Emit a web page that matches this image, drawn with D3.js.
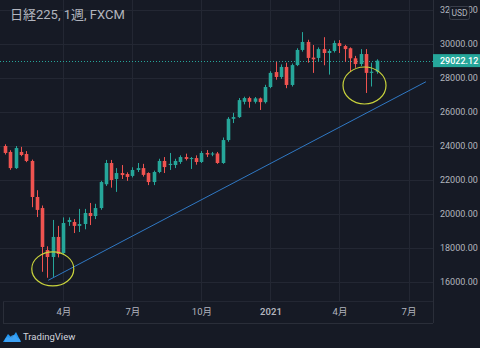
<!DOCTYPE html>
<html>
<head>
<meta charset="utf-8">
<script src="https://cdn.jsdelivr.net/npm/d3@7/dist/d3.min.js"></script>
<style>
  html, body { margin: 0; padding: 0; background: #161a25; }
  svg { display: block; }
  text { font-family: Roboto, "Noto Sans CJK JP", "Noto Sans", sans-serif; }
</style>
</head>
<body>
<svg id="chart" width="480" height="348"></svg>
<script>
// Weekly candles, Nikkei 225 CFD (FXCM), week starting dates
const weeks = [
  "2020-01-20","2020-01-27","2020-02-03","2020-02-10","2020-02-17","2020-02-24",
  "2020-03-02","2020-03-09","2020-03-16","2020-03-23","2020-03-30","2020-04-06",
  "2020-04-13","2020-04-20","2020-04-27","2020-05-04","2020-05-11","2020-05-18",
  "2020-05-25","2020-06-01","2020-06-08","2020-06-15","2020-06-22","2020-06-29",
  "2020-07-06","2020-07-13","2020-07-20","2020-07-27","2020-08-03","2020-08-10",
  "2020-08-17","2020-08-24","2020-08-31","2020-09-07","2020-09-14","2020-09-21",
  "2020-09-28","2020-10-05","2020-10-12","2020-10-19","2020-10-26","2020-11-02",
  "2020-11-09","2020-11-16","2020-11-23","2020-11-30","2020-12-07","2020-12-14",
  "2020-12-21","2020-12-28","2021-01-04","2021-01-11","2021-01-18","2021-01-25",
  "2021-02-01","2021-02-08","2021-02-15","2021-02-22","2021-03-01","2021-03-08",
  "2021-03-15","2021-03-22","2021-03-29","2021-04-05","2021-04-12","2021-04-19",
  "2021-04-26","2021-05-03","2021-05-10","2021-05-17","2021-05-24"
];
const opens = [
  24000,23650,22700,23650,23530,23120, 21000,20350,17880,17470,18650,17700,
  19530,19530,19300,19410,20060,19880, 20350,21750,23000,22060,22410,22350,
  22240,22590,22700,22410,21880,22470, 23120,22880,22880,23060,23350,23240,
  23290,23060,23590,23500,23560,23000, 24350,25600,25700,26600,26820,26600,
  26800,26580,27470,28350,28060,28650, 27590,28760,29650,30120,29200,29180,
  29700,29470,29590,30050,29880,29750, 29160,28820,29410,28300,28370
];
const highs = [
  24100,23750,24000,23950,23700,23200, 21400,20500,18100,19650,19300,19800,
  19800,19700,20300,20300,20650,20600, 21950,23180,23180,22700,22880,22450,
  22750,23000,22950,22450,22550,23250, 23350,23590,23250,23450,23550,23350,
  23450,23700,23760,23650,23650,24500, 25700,25950,26820,26900,26900,26880,
  26850,27600,28400,28950,28800,28900, 28850,29750,30700,30250,29940,29800,
  30400,29700,30200,30230,29950,29800, 29300,29700,29700,28900,29100
];
const lows = [
  23500,22600,22650,23400,23050,20400, 19820,16600,16250,16300,17450,17600,
  19300,18880,18940,19100,19350,19700, 20250,21650,21550,21300,22060,21950,
  22150,22470,22200,21700,21700,22400, 22410,22590,22700,22950,23150,22650,
  22900,23000,23350,23400,22950,22950, 24250,25350,25650,26450,26250,26500,
  26120,26500,27400,27900,27950,27400, 27500,28700,29550,28900,28300,29000,
  28750,28200,29500,29470,28950,28350, 28600,28700,27120,27500,28250
];
const closes = [
  23590,22700,23880,23470,23120,21000, 20240,18060,17470,18650,17650,19470,
  19650,19300,19410,20060,19880,20350, 21880,23000,22000,22410,22290,22180,
  22590,22700,22300,21880,22470,23120, 22760,22950,23120,23350,23240,23290,
  23060,23590,23500,23560,23000,24350, 25600,25700,26700,26820,26600,26800,
  26580,27470,28300,28060,28650,27590, 28760,29650,30120,29180,29100,29700,
  29470,29590,30060,29880,29700,29160, 28820,29410,28300,28370,29022.12
];

// Price axis levels and time axis ticks
const priceTicks = [16000,18000,20000,22000,24000,26000,28000,30000,32000];
const gridPrices = [14000,16000,18000,20000,22000,24000,26000,28000,30000,32000];
const timeTickDates = ["2020-04-06","2020-07-06","2020-10-05","2021-01-04","2021-04-05","2021-07-05"];
const timeTickLabels = ["4月","7月","10月","2021","4月","7月"];

// Trend line anchors (date, price) and the two highlighted zones
const trendDates = ["2020-03-17","2021-07-28"];
const trendPrices = [16100,27780];
const zoneDates = ["2020-03-23","2021-05-08"];
const zonePrices = [16770,27560];

const lastPrice = 29022.12;
const title = "日経225, 1週, FXCM";

const parse = d3.utcParse("%Y-%m-%d");
const candles = weeks.map((w, i) => ({
  date: parse(w), o: opens[i], h: highs[i], l: lows[i], c: closes[i]
}));

const W = 480, H = 348;
const plotRight = 433, plotBottom = 301, axisBottom = 323;

const svg = d3.select("#chart");

// Background
svg.append("rect").attr("width", W).attr("height", H).attr("fill", "#161a25");

const x = d3.scaleUtc()
  .domain([parse("2020-01-20"), parse("2021-07-05")])
  .range([5, 408.5]);
const y = d3.scaleLinear()
  .domain([16000, 30000])
  .range([282, 44]);

const plot = svg.append("g");
plot.append("clipPath").attr("id", "plotClip")
  .append("rect").attr("x", 0).attr("y", 0).attr("width", plotRight).attr("height", plotBottom);

const inner = plot.append("g").attr("clip-path", "url(#plotClip)");

// Grid
inner.append("g").selectAll("line").data(gridPrices).join("line")
  .attr("x1", 0).attr("x2", plotRight)
  .attr("y1", d => Math.round(y(d)) + 0.5).attr("y2", d => Math.round(y(d)) + 0.5)
  .attr("stroke", "#232733").attr("stroke-width", 1);
inner.append("g").selectAll("line").data(timeTickDates).join("line")
  .attr("x1", d => Math.round(x(parse(d))) + 0.5).attr("x2", d => Math.round(x(parse(d))) + 0.5)
  .attr("y1", 0).attr("y2", plotBottom)
  .attr("stroke", "#232733").attr("stroke-width", 1);

// Last price line
inner.append("line")
  .attr("x1", 0).attr("x2", plotRight)
  .attr("y1", Math.round(y(lastPrice)) + 0.5).attr("y2", Math.round(y(lastPrice)) + 0.5)
  .attr("stroke", "#26a69a").attr("stroke-width", 1).attr("stroke-dasharray", "1,2");

// Candles
const up = "#26a69a", down = "#ef5350";
const bodyW = 3.6;
const cg = inner.append("g").selectAll("g").data(candles).join("g");
cg.append("line")
  .attr("x1", d => Math.round(x(d.date)) + 0.5).attr("x2", d => Math.round(x(d.date)) + 0.5)
  .attr("y1", d => y(d.h)).attr("y2", d => y(d.l))
  .attr("stroke", d => d.c >= d.o ? up : down).attr("stroke-width", 1);
cg.append("rect")
  .attr("x", d => Math.round(x(d.date)) + 0.5 - bodyW / 2)
  .attr("width", bodyW)
  .attr("y", d => y(Math.max(d.o, d.c)))
  .attr("height", d => Math.max(1, Math.abs(y(d.o) - y(d.c))))
  .attr("fill", d => d.c >= d.o ? up : down);

// Trend line
inner.append("line")
  .attr("x1", x(parse(trendDates[0]))).attr("y1", y(trendPrices[0]))
  .attr("x2", x(parse(trendDates[1]))).attr("y2", y(trendPrices[1]))
  .attr("stroke", "#2f78c4").attr("stroke-width", 1);

// Highlighted zones
const zoneR = [[21, 17], [21.5, 18.5]];
inner.append("g").selectAll("ellipse").data(zoneDates).join("ellipse")
  .attr("cx", d => x(parse(d)))
  .attr("cy", (d, i) => y(zonePrices[i]))
  .attr("rx", (d, i) => zoneR[i][0]).attr("ry", (d, i) => zoneR[i][1])
  .attr("fill", "none").attr("stroke", "#c9d33c").attr("stroke-width", 1.2);

// Panel borders
svg.append("line").attr("x1", plotRight + 0.5).attr("x2", plotRight + 0.5)
  .attr("y1", 0).attr("y2", axisBottom).attr("stroke", "#2a2e39");
svg.append("line").attr("x1", 3.5).attr("x2", 3.5)
  .attr("y1", plotBottom).attr("y2", axisBottom).attr("stroke", "#2a2e39");
svg.append("line").attr("x1", 3).attr("x2", plotRight)
  .attr("y1", plotBottom + 0.5).attr("y2", plotBottom + 0.5).attr("stroke", "#232733");
svg.append("line").attr("x1", 3).attr("x2", plotRight)
  .attr("y1", axisBottom + 0.5).attr("y2", axisBottom + 0.5).attr("stroke", "#2a2e39");

// Price axis
const yAxis = d3.axisRight(y).tickValues(priceTicks).tickSize(0).tickPadding(0)
  .tickFormat(d3.format(".2f"));
const ya = svg.append("g").attr("transform", `translate(${plotRight + 7},0)`).call(yAxis);
ya.select(".domain").remove();
ya.selectAll("text").attr("fill", "#b2b5be").attr("font-size", 9);

// Time axis
const xAxis = d3.axisBottom(x).tickValues(timeTickDates.map(parse)).tickSize(0).tickPadding(0)
  .tickFormat((d, i) => timeTickLabels[i]);
const xa = svg.append("g").attr("transform", `translate(0,${plotBottom + 7})`).call(xAxis);
xa.select(".domain").remove();
xa.selectAll("text").attr("fill", "#b2b5be").attr("font-size", 9.5)
  .attr("font-weight", (d, i) => timeTickLabels[i] === "2021" ? 600 : 400);

// Currency badge
svg.append("rect").attr("x", 449.5).attr("y", 6.5).attr("width", 20).attr("height", 13).attr("rx", 2)
  .attr("fill", "#161a25").attr("stroke", "#3a3e4a");
svg.append("text").attr("x", 459.5).attr("y", 16).attr("text-anchor", "middle")
  .attr("fill", "#b2b5be").attr("font-size", 8.5).text("USD");

// Last price label
svg.append("rect").attr("x", plotRight).attr("y", y(lastPrice) - 6.5).attr("width", W - plotRight).attr("height", 13)
  .attr("fill", "#26a69a");
svg.append("text").attr("x", plotRight + 7).attr("y", y(lastPrice) + 3.5)
  .attr("fill", "#ffffff").attr("font-size", 9).attr("font-weight", 500)
  .text(d3.format(".2f")(lastPrice));

// Title
svg.append("text").attr("x", 10).attr("y", 19)
  .attr("fill", "#b2b5be").attr("font-size", 13).text(title);

// Footer logo
const logo = svg.append("g").attr("transform", "translate(3,329)");
logo.append("path")
  .attr("d", "M0,13 L5,5 L9,9 L13,3 L18,13 Z")
  .attr("fill", "#2196f3");
logo.append("path")
  .attr("d", "M2,13 C1,9 5,7 7,9 C8,5 14,5 14,9 C17,9 18,12 17,13 Z")
  .attr("fill", "#42a5f5").attr("opacity", 0.85);
svg.append("text").attr("x", 23).attr("y", 340)
  .attr("fill", "#d1d4dc").attr("font-size", 9.5).text("TradingView");
</script>
</body>
</html>
